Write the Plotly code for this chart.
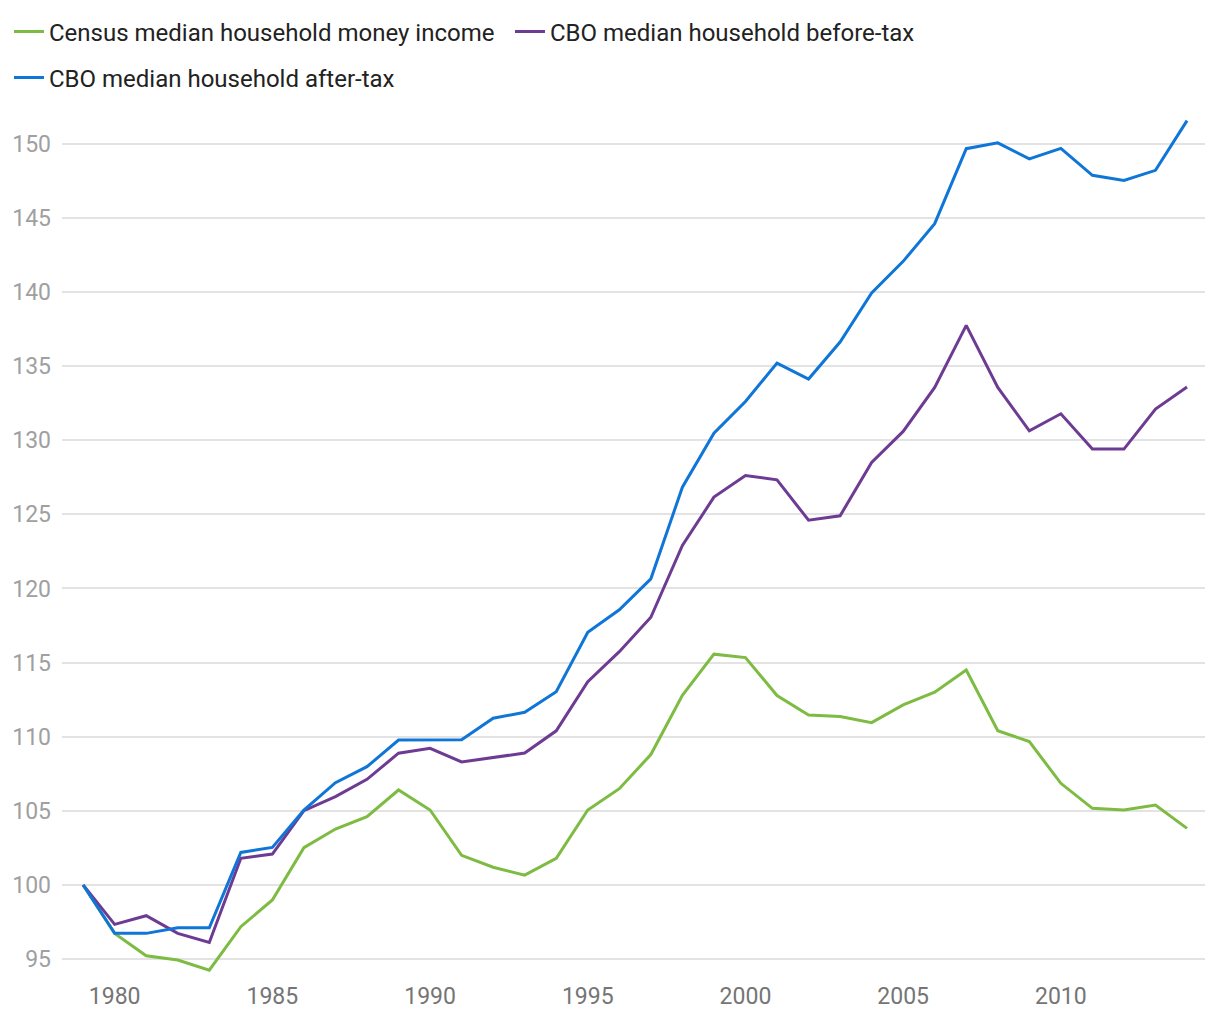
import plotly.graph_objects as go

years = list(range(1979, 2015))

census = [100, 96.74, 95.23, 94.94, 94.26, 97.19, 98.99, 102.52, 103.78, 104.61,
          106.41, 105.06, 102.0, 101.2, 100.67, 101.8, 105.06, 106.5, 108.8, 112.8,
          115.57, 115.34, 112.78, 111.47, 111.36, 110.95, 112.15, 113.0, 114.5, 110.41,
          109.67, 106.86, 105.17, 105.06, 105.4, 103.82]

cbo_before = [100, 97.35, 97.93, 96.74, 96.13, 101.8, 102.09, 105.02, 105.96, 107.13,
              108.89, 109.22, 108.3, 108.6, 108.9, 110.4, 113.72, 115.74, 118.06, 122.9,
              126.16, 127.62, 127.33, 124.6, 124.9, 128.5, 130.59, 133.56, 137.74, 133.56,
              130.63, 131.78, 129.4, 129.4, 132.1, 133.58]

cbo_after = [100, 96.74, 96.74, 97.12, 97.12, 102.2, 102.54, 105.06, 106.9, 107.98,
             109.78, 109.78, 109.8, 111.25, 111.65, 113.04, 117.05, 118.56, 120.65, 126.83,
             130.47, 132.61, 135.2, 134.12, 136.62, 139.93, 142.06, 144.6, 149.66, 150.05,
             148.97, 149.68, 147.86, 147.52, 148.2, 151.55]

series_names = ["Census median household money income",
                "CBO median household before-tax",
                "CBO median household after-tax"]
colors = ["#7dbb42", "#6e3b93", "#0f76d8"]
legend_ids = ["legend", "legend2", "legend3"]

x_ticks = [1980, 1985, 1990, 1995, 2000, 2005, 2010]
y_ticks = [95, 100, 105, 110, 115, 120, 125, 130, 135, 140, 145, 150]

W, H = 1212, 1012  # page adds an 8px body margin

fig = go.Figure()
for name, vals, col, lg in zip(series_names, [census, cbo_before, cbo_after], colors, legend_ids):
    fig.add_trace(go.Scatter(x=years, y=vals, mode="lines", name=name, legend=lg,
                             line=dict(color=col, width=3)))

legend_common = dict(orientation="h", xref="container", yref="container",
                     xanchor="left", yanchor="middle", bgcolor="rgba(0,0,0,0)",
                     font=dict(family="Roboto", size=24, color="#222222"))

fig.update_layout(
    width=W, height=H,
    paper_bgcolor="white", plot_bgcolor="white",
    font=dict(family="Roboto", size=23, color="#222222"),
    margin=dict(l=54, r=15, t=103, b=46, autoexpand=False),
    legend=dict(x=1 / W, y=1 - 24 / H, **legend_common),
    legend2=dict(x=502 / W, y=1 - 24 / H, **legend_common),
    legend3=dict(x=1 / W, y=1 - 70 / H, **legend_common),
    showlegend=True,
)
fig.update_xaxes(range=[1978.33, 2014.57], tickvals=x_ticks, showgrid=False,
                 zeroline=False, showline=False, ticks="", automargin=False,
                 ticklabelstandoff=6,
                 tickfont=dict(size=23, color="#757575"))
fig.update_yaxes(range=[94.0, 152.2], tickvals=y_ticks, showgrid=True,
                 gridcolor="#e3e3e3", gridwidth=2, zeroline=False, showline=False,
                 ticks="", automargin=False, ticklabelstandoff=10,
                 tickfont=dict(size=23, color="#a0a0a0"))

fig.write_html("out.html")
